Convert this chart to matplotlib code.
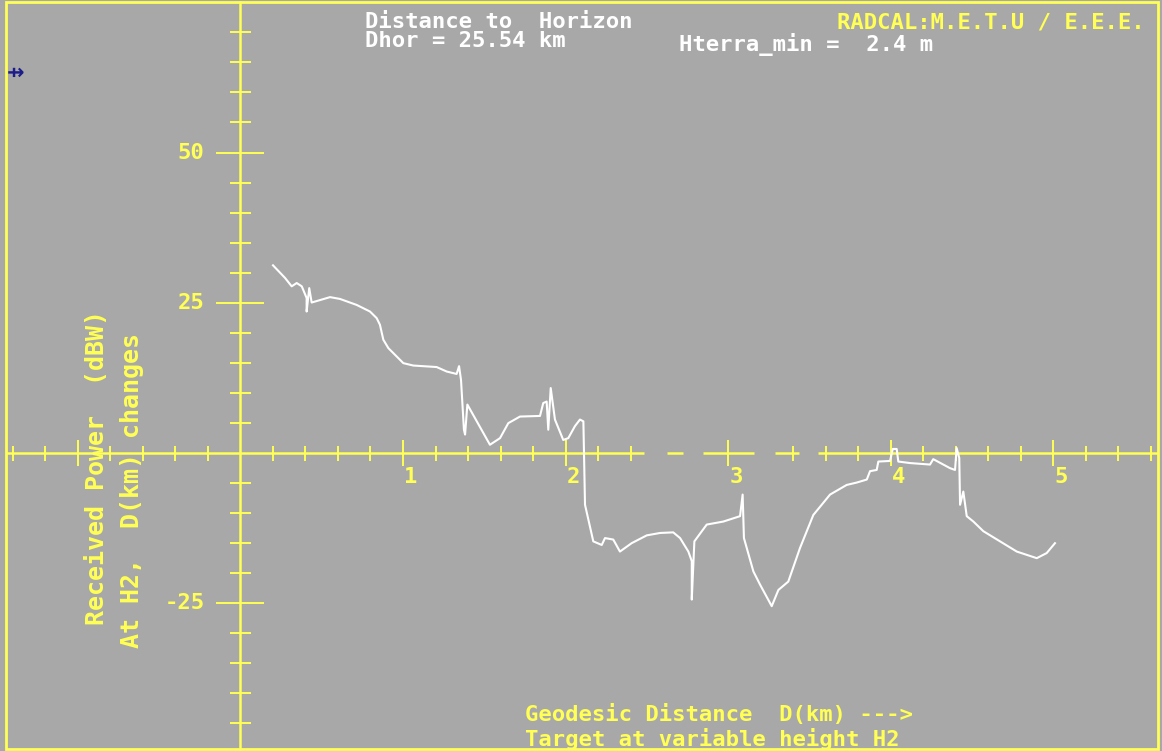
import numpy as np
import matplotlib
matplotlib.use("Agg")
import matplotlib.pyplot as plt
from matplotlib.patches import Rectangle

# Received power along the path (km, dBW)
distance_km = [
    0.200, 0.274, 0.315, 0.346, 0.377, 0.407, 0.407, 0.423, 0.438, 0.551,
    0.612, 0.715, 0.797, 0.838, 0.858, 0.879, 0.910, 1.002, 1.063, 1.207,
    1.269, 1.330, 1.345, 1.357, 1.375, 1.382, 1.396, 1.535, 1.597, 1.648,
    1.720, 1.843, 1.863, 1.884, 1.894, 1.909, 1.935, 1.986, 2.017, 2.058,
    2.089, 2.110, 2.120, 2.171, 2.223, 2.243, 2.294, 2.335, 2.407, 2.500,
    2.582, 2.663, 2.705, 2.756, 2.777, 2.777, 2.793, 2.869, 2.971, 3.074,
    3.090, 3.098, 3.156, 3.197, 3.269, 3.310, 3.371, 3.443, 3.525, 3.628,
    3.730, 3.792, 3.854, 3.874, 3.915, 3.925, 3.997, 4.014, 4.038, 4.048,
    4.120, 4.243, 4.263, 4.366, 4.397, 4.407, 4.423, 4.428, 4.448, 4.469,
    4.510, 4.571, 4.674, 4.777, 4.900, 4.961, 5.012,
]
power_dbw = [
    31.2, 29.1, 27.7, 28.25, 27.7, 25.75, 23.5, 27.4, 25.0, 25.9,
    25.6, 24.6, 23.5, 22.4, 21.3, 18.8, 17.4, 14.9, 14.5, 14.25,
    13.5, 13.1, 14.4, 12.1, 3.8, 3.0, 8.0, 1.3, 2.4, 4.9,
    6.0, 6.1, 8.25, 8.5, 3.8, 10.75, 5.5, 2.1, 2.4, 4.4,
    5.5, 5.2, -8.7, -14.8, -15.4, -14.25, -14.5, -16.5, -15.1, -13.8,
    -13.4, -13.3, -14.25, -16.5, -18.1, -24.5, -14.8, -12.0, -11.5, -10.6,
    -7.0, -14.25, -19.8, -22.0, -25.6, -22.9, -21.5, -15.9, -10.4, -7.0,
    -5.4, -5.0, -4.5, -3.1, -2.9, -1.5, -1.4, 0.6, 0.6, -1.5,
    -1.75, -2.0, -1.1, -2.6, -2.9, 0.75, -0.9, -8.7, -6.5, -10.6,
    -11.5, -13.1, -14.8, -16.5, -17.6, -16.75, -15.1,
]

x_label_values = [1, 2, 3, 4, 5]
x_label_texts = ["1", "2", "3", "4", "5"]
y_label_values = [50, 25, -25]
y_label_texts = ["50", "25", "-25"]

# Pieces of the distance axis that are drawn (the rest is left open)
AXIS_PIECES = [(-1.45, 2.483), (2.625, 2.723), (2.846, 3.160),
               (3.289, 3.437), (3.554, 5.65)]

GRAY = "#a8a8a8"
YELLOW = "#ffff55"
WHITE = "#ffffff"
MONO = "DejaVu Sans Mono"
FS = 16

W, H = 1162, 751
fig = plt.figure(figsize=(W / 100, H / 100), dpi=100, facecolor=GRAY)
ax = fig.add_axes([6 / W, 2 / H, 1152 / W, 747 / H])
ax.set_facecolor(GRAY)
ax.set_xlim(-1.443, 5.646)
ax.set_ylim(-49.4, 75.08)

for side in ("top", "right", "bottom"):
    ax.spines[side].set_visible(False)
ax.spines["left"].set_position(("data", 0))
ax.spines["bottom"].set_position(("data", 0))
ax.spines["left"].set_color(YELLOW)
ax.spines["left"].set_linewidth(1.8)


def on_axis(v):
    return any(a <= v <= b for a, b in AXIS_PIECES)


x_major = [v for v in [-1, 1, 2, 3, 4, 5] if on_axis(v)]
x_minor = [v for v in np.round(np.arange(-7, 29) * 0.2, 2)
           if v not in (-1, 0, 1, 2, 3, 4, 5) and on_axis(v)]
y_major = [50, 25, -25]
y_minor = [v for v in range(-45, 75, 5) if v not in (50, 25, -25, 0)]

ax.set_xticks(x_major)
ax.set_xticks(x_minor, minor=True)
ax.set_yticks(y_major)
ax.set_yticks(y_minor, minor=True)
ax.tick_params(axis="x", which="major", direction="inout", length=26 * 0.72,
               width=1.4, color=YELLOW, labelbottom=False)
ax.tick_params(axis="x", which="minor", direction="inout", length=15 * 0.72,
               width=1.4, color=YELLOW)
ax.tick_params(axis="y", which="major", direction="inout", length=48 * 0.72,
               width=1.4, color=YELLOW, labelleft=False)
ax.tick_params(axis="y", which="minor", direction="inout", length=21 * 0.72,
               width=1.4, color=YELLOW)

for a, b in AXIS_PIECES:
    ax.plot([a, b], [0, 0], color=YELLOW, lw=1.8, solid_capstyle="butt",
            zorder=2.4)

for v, t in zip(x_label_values, x_label_texts):
    ax.annotate(t, xy=(v, 0), xytext=(8 * 0.72, -24 * 0.72),
                textcoords="offset points", ha="center", va="center",
                color=YELLOW, family=MONO, fontsize=FS, fontweight="bold")
for v, t in zip(y_label_values, y_label_texts):
    ax.annotate(t, xy=(0, v), xytext=(-36 * 0.72, 0),
                textcoords="offset points", ha="right", va="center",
                color=YELLOW, family=MONO, fontsize=FS, fontweight="bold")

ax.plot(distance_km, power_dbw, color=WHITE, lw=1.5, zorder=3)

ax.add_patch(Rectangle((0, 0), 1, 1, transform=ax.transAxes, fill=False,
                       edgecolor=YELLOW, lw=2, clip_on=False, zorder=5))


def fig_text(x, y, s, color, size=FS, **kw):
    fig.text(x / W, 1 - y / H, s, color=color, family=MONO, fontsize=size,
             fontweight="bold", **kw)


fig_text(365, 28, "Distance to  Horizon", WHITE, va="baseline")
fig_text(365, 47, "Dhor = 25.54 km", WHITE, va="baseline")
fig_text(679, 51, "Hterra_min =  2.4 m", WHITE, va="baseline")
fig_text(1145, 29, "RADCAL:M.E.T.U / E.E.E.", YELLOW, va="baseline",
         ha="right")
fig_text(525, 721, "Geodesic Distance  D(km) --->", YELLOW, va="baseline")
fig_text(525, 746, "Target at variable height H2", YELLOW, va="baseline")
fig_text(97, 625, "Received Power  (dBW)", YELLOW, size=18, rotation=90,
         ha="center", va="bottom")
fig_text(132, 648, "At H2,  D(km) changes", YELLOW, size=18, rotation=90,
         ha="center", va="bottom")

fig.text(16 / W, 1 - 73 / H, "\u21f8", color="#1c1c8a", family="DejaVu Sans",
         fontsize=15, ha="center", va="center", fontweight="bold")

fig.savefig("out.png", dpi=100, facecolor=GRAY)
